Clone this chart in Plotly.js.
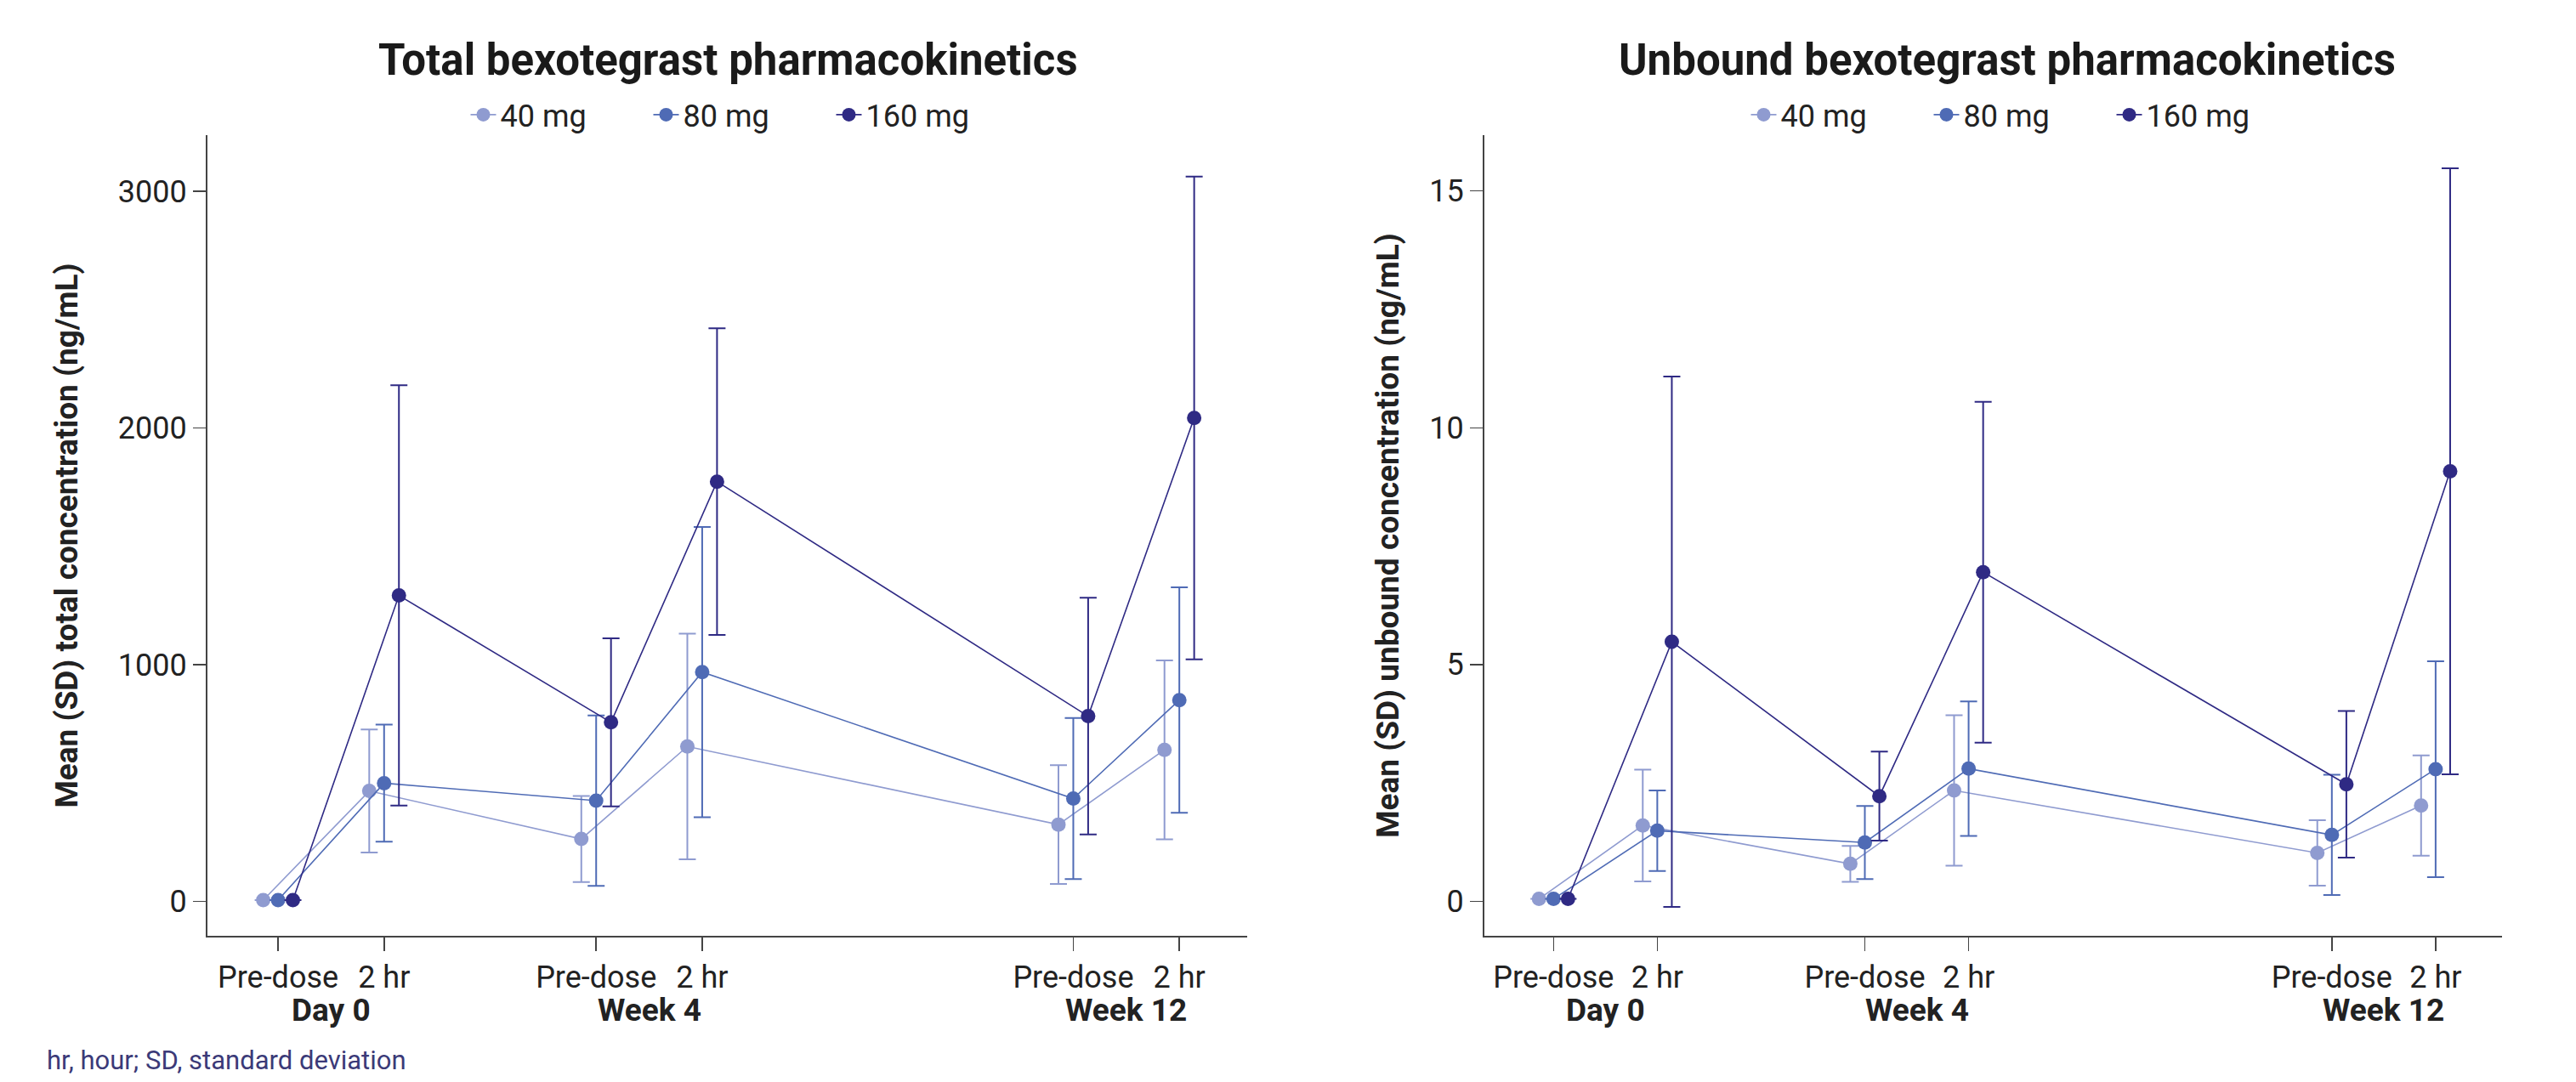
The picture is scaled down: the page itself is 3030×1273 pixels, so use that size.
<!DOCTYPE html>
<html>
<head>
<meta charset="utf-8">
<script src="https://cdn.plot.ly/plotly-3.0.1.min.js"></script>
<style>
  html, body { margin: 0; padding: 0; background: #ffffff; }
  #chart { width: 3030px; height: 1273px; }
</style>
</head>
<body>
<div id="chart"></div>
<script>
// ---------- data ----------
const timepoints = ["Pre-dose", "2 hr", "Pre-dose", "2 hr", "Pre-dose", "2 hr"];
const visits = ["Day 0", "Week 4", "Week 12"];
const doses = ["40 mg", "80 mg", "160 mg"];

// Total concentration (ng/mL): mean and SD
const total40 = [5, 466, 263, 654, 324, 640];
const total40sd = [0, 260, 182, 477, 251, 378];
const total80 = [5, 499, 425, 968, 434, 850];
const total80sd = [0, 247, 360, 613, 340, 476];
const total160 = [5, 1292, 756, 1773, 782, 2042];
const total160sd = [0, 888, 355, 648, 500, 1020];

// Unbound concentration (ng/mL): mean and SD
const unbound40 = [0.05, 1.60, 0.79, 2.34, 1.02, 2.02];
const unbound40sd = [0, 1.18, 0.38, 1.59, 0.69, 1.06];
const unbound80 = [0.05, 1.49, 1.24, 2.80, 1.40, 2.79];
const unbound80sd = [0, 0.85, 0.77, 1.42, 1.27, 2.28];
const unbound160 = [0.05, 5.48, 2.22, 6.95, 2.47, 9.08];
const unbound160sd = [0, 5.60, 0.94, 3.60, 1.55, 6.40];

// ---------- layout constants ----------
const timePos = [0, 1, 3, 4, 7.5, 8.5];      // axis position of each timepoint
const visitPos = [0.5, 3.5, 8.0];            // centre of each visit group
const dodge = [-0.14, 0, 0.14];              // horizontal dodge per dose
const colors = ["#8f9bd0", "#4f6bb5", "#2f2a84"];
const FONT = "Roboto, 'Open Sans', Arial, sans-serif";

const totalMeans = [total40, total80, total160];
const totalSDs = [total40sd, total80sd, total160sd];
const unboundMeans = [unbound40, unbound80, unbound160];
const unboundSDs = [unbound40sd, unbound80sd, unbound160sd];

function makeTraces(means, sds, xa, ya, legendId) {
  return doses.map((d, i) => ({
    type: "scatter",
    mode: "lines+markers",
    name: d,
    x: timePos.map(p => p + dodge[i]),
    y: means[i],
    xaxis: xa,
    yaxis: ya,
    legend: legendId,
    line: { color: colors[i], width: 1.6 },
    marker: { color: colors[i], size: 17 },
    error_y: {
      type: "data", array: sds[i], visible: true,
      color: colors[i], thickness: 2, width: 10
    },
    hoverinfo: "x+y+name"
  }));
}

const traces = [
  ...makeTraces(totalMeans, totalSDs, "x", "y", "legend"),
  ...makeTraces(unboundMeans, unboundSDs, "x2", "y2", "legend2")
];

const W = 3030, H = 1273;
const px = v => v / W;
const py = v => 1 - v / H;

const xCommon = {
  range: [-0.666, 9.14],
  tickmode: "array",
  tickvals: timePos,
  ticktext: timepoints,
  ticks: "outside",
  ticklen: 16,
  tickwidth: 1.5,
  tickcolor: "#444",
  showline: true,
  linecolor: "#444",
  linewidth: 2,
  showgrid: false,
  zeroline: false,
  tickfont: { family: FONT, size: 36, color: "#222" },
  fixedrange: true
};
const yCommon = {
  ticks: "outside",
  ticklen: 15,
  tickwidth: 1.5,
  tickcolor: "#444",
  showline: true,
  linecolor: "#444",
  linewidth: 2,
  showgrid: false,
  zeroline: false,
  tickfont: { family: FONT, size: 36, color: "#222" },
  fixedrange: true
};

const groupAnns = [];
visits.forEach((v, i) => {
  ["x", "x2"].forEach(xr => {
    groupAnns.push({
      xref: xr, yref: "paper", x: visitPos[i], y: py(1188),
      xanchor: "center", yanchor: "middle", showarrow: false,
      text: "<b>" + v + "</b>",
      font: { family: FONT, size: 37, color: "#222" }
    });
  });
});

const legendCommon = {
  orientation: "h", xanchor: "center", y: py(135), yanchor: "middle",
  font: { family: FONT, size: 36, color: "#222" },
  entrywidth: 170, entrywidthmode: "pixels",
  bgcolor: "rgba(0,0,0,0)", itemclick: false, itemdoubleclick: false
};

const layout = {
  width: W, height: H,
  margin: { l: 0, r: 0, t: 0, b: 0 },
  paper_bgcolor: "#ffffff",
  plot_bgcolor: "#ffffff",
  font: { family: FONT, color: "#222" },
  showlegend: true,
  xaxis: Object.assign({}, xCommon, { domain: [px(244), px(1467)], anchor: "y" }),
  yaxis: Object.assign({}, yCommon, {
    domain: [py(1101), py(159)], anchor: "x",
    range: [-146, 3237], tickvals: [0, 1000, 2000, 3000],
    title: { text: "<b>Mean (SD) total concentration (ng/mL)</b>", standoff: 36,
             font: { family: FONT, size: 37, color: "#222" } }
  }),
  xaxis2: Object.assign({}, xCommon, { domain: [px(1746), px(2943)], anchor: "y2" }),
  yaxis2: Object.assign({}, yCommon, {
    domain: [py(1101), py(159)], anchor: "x2",
    range: [-0.73, 16.18], tickvals: [0, 5, 10, 15],
    title: { text: "<b>Mean (SD) unbound concentration (ng/mL)</b>", standoff: 24,
             font: { family: FONT, size: 37, color: "#222" } }
  }),
  legend: Object.assign({}, legendCommon, { x: px(871) }),
  legend2: Object.assign({}, legendCommon, { x: px(2377) }),
  annotations: [
    { xref: "paper", yref: "paper", x: px(856), y: py(70), xanchor: "center", yanchor: "middle",
      showarrow: false, text: "<b>Total bexotegrast pharmacokinetics</b>",
      font: { family: FONT, size: 51, color: "#1a1a1a" } },
    { xref: "paper", yref: "paper", x: px(2361), y: py(70), xanchor: "center", yanchor: "middle",
      showarrow: false, text: "<b>Unbound bexotegrast pharmacokinetics</b>",
      font: { family: FONT, size: 51, color: "#1a1a1a" } },
    ...groupAnns,
    { xref: "paper", yref: "paper", x: px(53), y: py(1247), xanchor: "left", yanchor: "middle",
      showarrow: false, text: "hr, hour; SD, standard deviation",
      font: { family: FONT, size: 31, color: "#3b3a78" } }
  ]
};

Plotly.newPlot("chart", traces, layout, { displayModeBar: false, staticPlot: true });
</script>
</body>
</html>
